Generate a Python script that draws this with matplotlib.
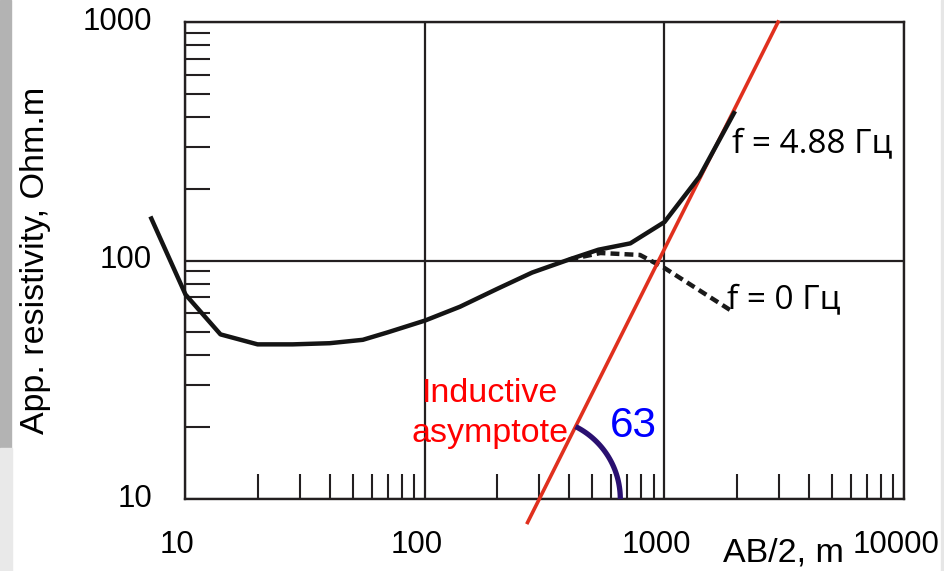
import numpy as np
import matplotlib
matplotlib.use('Agg')
import matplotlib.pyplot as plt
from matplotlib.patches import Rectangle
from matplotlib.ticker import NullFormatter

plt.rcParams['font.family'] = ['Liberation Sans', 'DejaVu Sans']

# sounding curve for f = 4.88 Hz (AB/2 in m, app. resistivity in Ohm.m)
ab2 = [7.2, 10, 14, 20, 28, 40, 55, 70, 100, 140, 200, 280, 400, 530, 720, 1000, 1400, 1950]
rho_f488 = [150, 72, 49, 44.5, 44.5, 45, 46.5, 50, 56, 64, 76, 89, 101, 111, 118, 145, 225, 415]

# f = 0 Hz curve, the part that leaves the f = 4.88 Hz curve
ab2_dc = [400, 540, 790, 1000, 1880]
rho_dc = [101, 107.5, 105.5, 93, 62]

# inductive asymptote (end points)
asym_x = [268, 2980]
asym_y = [7.97, 1000]
angle_label = '63'

xticks = [10, 100, 1000, 10000]
yticks = [10, 100, 1000]

fig = plt.figure(figsize=(9.45, 5.71), dpi=100)
W, H = 945, 571
ax = fig.add_axes([185.5 / W, 1 - 499 / H, (904 - 185.5) / W, (499 - 22) / H])

# grey strips at the page edges
fig.patches.append(Rectangle((0, 1 - 448 / H), 11 / W, 448 / H, transform=fig.transFigure,
                             color='#b3b3b3', zorder=0))
fig.patches.append(Rectangle((0, 0), 12 / W, 1 - 448 / H, transform=fig.transFigure,
                             color='#e9e9e9', zorder=0))
fig.patches.append(Rectangle((941 / W, 0), 4 / W, 1, transform=fig.transFigure,
                             color='#e6e6e6', zorder=0))

ax.set_xscale('log')
ax.set_yscale('log')
ax.set_xlim(10, 10000)
ax.set_ylim(10, 1000)
ax.set_xticks(xticks)
ax.set_yticks(yticks)
ax.xaxis.set_minor_formatter(NullFormatter())
ax.yaxis.set_minor_formatter(NullFormatter())
ax.tick_params(which='major', length=0, labelbottom=False, labelleft=False)
ax.tick_params(which='minor', direction='in', length=18, width=1.5, color='#231f20')
ax.grid(which='major', color='#231f20', lw=1.6)
for s in ax.spines.values():
    s.set_linewidth(1.7)
    s.set_color('#231f20')

# tick labels (drawn a little left of the tick, like the original)
for v in xticks:
    ax.annotate(str(v), xy=(v, 0), xycoords=('data', 'axes fraction'),
                xytext=(-6, -33), textcoords='offset points',
                ha='center', va='center', fontsize=22.5)
for v in yticks:
    ax.annotate(str(v), xy=(0, v), xycoords=('axes fraction', 'data'),
                xytext=(-24, 0), textcoords='offset points',
                ha='right', va='center', fontsize=22.5)

# curves
ax.plot(ab2_dc, rho_dc, color='#1a1a1a', lw=3.2, ls=(0, (2.0, 1.15)), zorder=3)
ax.plot(asym_x, asym_y, color='#e0301e', lw=2.6, clip_on=False, zorder=4)
ax.plot(ab2, rho_f488, color='#141414', lw=3.2, clip_on=False, zorder=5)

# angle arc between the asymptote and the x axis (drawn in pixel space)
lx = np.log10(asym_x)
ly = np.log10(asym_y)
lx0 = lx[0] + (1 - ly[0]) * (lx[1] - lx[0]) / (ly[1] - ly[0])
c = ax.transData.transform((10 ** lx0, 10))
p_top = ax.transData.transform((asym_x[1], asym_y[1]))
ang = np.arctan2(p_top[1] - c[1], p_top[0] - c[0])
t = np.linspace(0, ang, 60)
r = 81
pix = np.column_stack([c[0] + r * np.cos(t), c[1] + r * np.sin(t)])
arc = ax.transData.inverted().transform(pix)
ax.plot(arc[:, 0], arc[:, 1], color='#2a1070', lw=3.8, solid_capstyle='butt',
        clip_on=False, zorder=4)

# annotations
ax.text(1914, 285, 'f = 4.88 Гц', family=['Open Sans', 'DejaVu Sans'], fontsize=24,
        ha='left', va='baseline', zorder=6)
ax.text(1820, 63, 'f = 0 Гц', family=['Open Sans', 'DejaVu Sans'], fontsize=24,
        ha='left', va='baseline', zorder=6)
ax.text(187, 25.6, 'Inductive', color='#ff0000', fontsize=24.5, ha='center', va='baseline')
ax.text(187, 17.4, 'asymptote', color='#ff0000', fontsize=24.5, ha='center', va='baseline')
ax.text(738, 18.2, angle_label, color='#0000ff', fontsize=30.5, ha='center', va='baseline')

fig.text(783 / W, 1 - 553 / H, 'AB/2, m', fontsize=24.5, ha='center', va='center')
fig.text(36 / W, 1 - 260 / H, 'App. resistivity, Ohm.m', fontsize=24.5, rotation=90,
         ha='center', va='center')

fig.savefig('out.png', dpi=100)
